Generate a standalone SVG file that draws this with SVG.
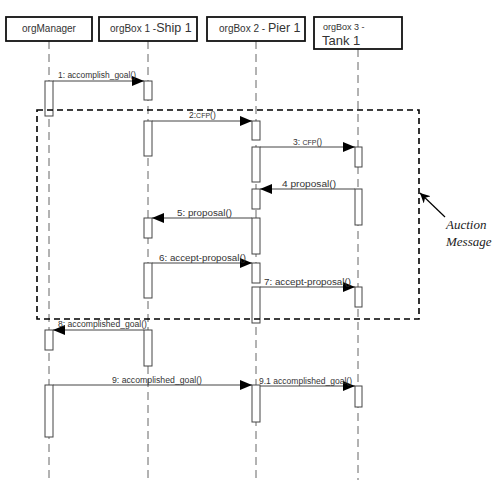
<svg xmlns="http://www.w3.org/2000/svg" width="499" height="483" viewBox="0 0 499 483">
<style>
.hdr{fill:#fff;stroke:#111;stroke-width:1.8}
.ht{font-family:"Liberation Sans",Arial,sans-serif;font-size:10px;fill:#333}
.life{stroke:#666;stroke-width:1;stroke-dasharray:8 5;fill:none}
.act{fill:#fff;stroke:#444;stroke-width:1}
.msg{stroke:#444;stroke-width:1;fill:none;marker-end:url(#ah)}
.lbl{font-family:"Liberation Sans",Arial,sans-serif;font-size:8.5px;fill:#333}
.sc{font-size:7px}
</style>
<defs>
<marker id="ah" viewBox="0 0 12 10" refX="12" refY="5" markerWidth="12" markerHeight="10" markerUnits="userSpaceOnUse" orient="auto">
<path d="M0,0 L12,5 L0,10 Z" fill="#000"/>
</marker>
<marker id="ah2" viewBox="0 0 10 10" refX="10" refY="5" markerWidth="10" markerHeight="10" markerUnits="userSpaceOnUse" orient="auto">
<path d="M0,0 L10,5 L0,10 L3,5 Z" fill="#000"/>
</marker>
</defs>
<rect width="499" height="483" fill="#fff"/>

<g id="orgManager">
<line class="life" x1="49" y1="41" x2="49" y2="480"/>
<rect class="hdr" x="6" y="17" width="86" height="24"/>
<text class="ht" x="49" y="32" text-anchor="middle">orgManager</text>
<rect class="act" x="45" y="81" width="8" height="35"/>
<rect class="act" x="45" y="330" width="8" height="20"/>
<rect class="act" x="45" y="385" width="8" height="52"/>
</g>

<g id="orgBox1">
<line class="life" x1="148" y1="41" x2="148" y2="480"/>
<rect class="hdr" x="99" y="17" width="98" height="24"/>
<text class="ht" x="110" y="32">orgBox 1 -<tspan font-size="12.5">Ship 1</tspan></text>
<rect class="act" x="144" y="81" width="8" height="19"/>
<rect class="act" x="144" y="121" width="8" height="35"/>
<rect class="act" x="144" y="218" width="8" height="20"/>
<rect class="act" x="144" y="263" width="8" height="35"/>
<rect class="act" x="144" y="330" width="8" height="36"/>
</g>

<g id="orgBox2">
<line class="life" x1="256" y1="41" x2="256" y2="480"/>
<rect class="hdr" x="207" y="17" width="98" height="24"/>
<text class="ht" x="219" y="32">orgBox 2 - <tspan font-size="12.5">Pier 1</tspan></text>
<rect class="act" x="252" y="121" width="8" height="19"/>
<rect class="act" x="252" y="147" width="8" height="35"/>
<rect class="act" x="252" y="189" width="8" height="20"/>
<rect class="act" x="252" y="218" width="8" height="36"/>
<rect class="act" x="252" y="263" width="8" height="20"/>
<rect class="act" x="252" y="287" width="8" height="36"/>
<rect class="act" x="252" y="385" width="8" height="37"/>
</g>

<g id="orgBox3">
<line class="life" x1="358" y1="49" x2="358" y2="480"/>
<rect class="hdr" x="314" y="17" width="88" height="32"/>
<text class="ht" x="323" y="30" style="font-size:9px">orgBox 3 -</text>
<text class="ht" x="322" y="45" style="font-size:13px">Tank 1</text>
<rect class="act" x="355" y="147" width="7" height="20"/>
<rect class="act" x="355" y="189" width="7" height="36"/>
<rect class="act" x="355" y="287" width="7" height="20"/>
<rect class="act" x="355" y="386" width="7" height="21"/>
</g>

<g id="auction">
<rect x="37" y="110" width="382" height="209" fill="none" stroke="#000" stroke-width="1.6" stroke-dasharray="6 4"/>
<line x1="445" y1="217" x2="420" y2="193" stroke="#000" stroke-width="1.2" marker-end="url(#ah2)"/>
<text x="446" y="229" font-family="Liberation Serif,Times New Roman,serif" font-style="italic" font-size="13" fill="#222">Auction</text>
<text x="446" y="246" font-family="Liberation Serif,Times New Roman,serif" font-style="italic" font-size="13" fill="#222">Message</text>
</g>

<g id="connectors">
<line class="msg" x1="53" y1="81" x2="144" y2="81"/>
<text class="lbl" x="58" y="78" textLength="78" lengthAdjust="spacingAndGlyphs">1: accomplish_goal()</text>

<line class="msg" x1="152" y1="121" x2="252" y2="121"/>
<text class="lbl" x="189" y="118">2:<tspan class="sc">CFP</tspan>()</text>

<line class="msg" x1="260" y1="147" x2="355" y2="147"/>
<text class="lbl" x="293" y="145">3: <tspan class="sc">CFP</tspan>()</text>

<line class="msg" x1="355" y1="189" x2="260" y2="189"/>
<text class="lbl" x="282" y="187" textLength="54" lengthAdjust="spacingAndGlyphs">4  proposal()</text>

<line class="msg" x1="252" y1="218" x2="152" y2="218"/>
<text class="lbl" x="177" y="216" textLength="55" lengthAdjust="spacingAndGlyphs">5: proposal()</text>

<line class="msg" x1="152" y1="263" x2="252" y2="263"/>
<text class="lbl" x="159" y="261" textLength="87" lengthAdjust="spacingAndGlyphs">6: accept-proposal()</text>

<line class="msg" x1="260" y1="287" x2="355" y2="287"/>
<text class="lbl" x="264" y="285" textLength="87" lengthAdjust="spacingAndGlyphs">7: accept-proposal()</text>

<line class="msg" x1="144" y1="330" x2="53" y2="330"/>
<text class="lbl" x="58" y="327" textLength="89" lengthAdjust="spacingAndGlyphs">8: accomplished_goal()</text>

<line class="msg" x1="53" y1="385" x2="252" y2="385"/>
<text class="lbl" x="112" y="383" textLength="90" lengthAdjust="spacingAndGlyphs">9:  accomplished_goal()</text>

<line class="msg" x1="260" y1="386" x2="355" y2="386"/>
<text class="lbl" x="259" y="384" textLength="93" lengthAdjust="spacingAndGlyphs">9.1 accomplished_goal()</text>
</g>
</svg>
